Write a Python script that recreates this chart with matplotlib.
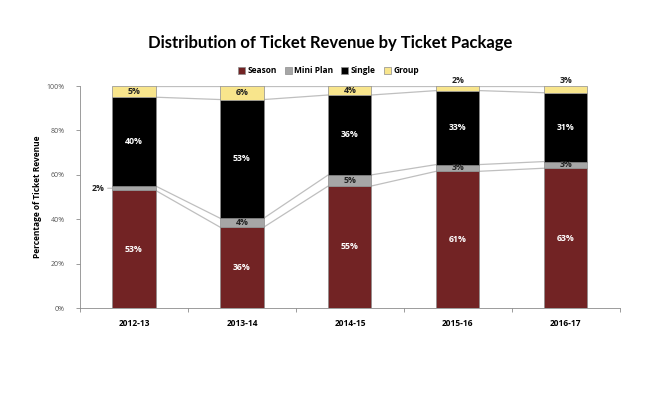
import numpy as np
import matplotlib.pyplot as plt

plt.rcParams['font.family'] = ['Open Sans', 'DejaVu Sans']

years = ["2012-13", "2013-14", "2014-15", "2015-16", "2016-17"]
season = [53, 36, 55, 61, 63]
mini_plan = [2, 4, 5, 3, 3]
single = [40, 53, 36, 33, 31]
group = [5, 6, 4, 2, 3]

names = ["Season", "Mini Plan", "Single", "Group"]
colors = ["#722324", "#a6a6a6", "#000000", "#f8e58c"]
text_colors = ["white", "#222222", "white", "#222222"]

raw = np.array([season, mini_plan, single, group], dtype=float)
share = raw / raw.sum(axis=0) * 100  # 100% stacked, like the source chart

fig = plt.figure(figsize=(6.47, 4.12), dpi=100)
ax = fig.add_axes([0.1236, 0.2524, 0.8344, 0.5386])

x = np.arange(len(years))
w = 0.4
fs = 6.3
bottom = np.zeros(len(years))
for i, name in enumerate(names):
    ax.bar(x, share[i], w, bottom=bottom, color=colors[i], edgecolor="#8c8c8c",
           lw=0.5, label=name, zorder=3)
    for j in range(len(years)):
        lab = f"{int(raw[i, j])}%"
        mid = bottom[j] + share[i, j] / 2
        if name == "Mini Plan" and j == 0:
            ax.annotate(lab, xy=(x[j] - w / 2, mid), xytext=(x[j] - w / 2 - 0.07, mid),
                        ha="right", va="center", fontsize=fs, fontweight="bold",
                        color="#222222",
                        arrowprops=dict(arrowstyle="-", color="#a6a6a6", lw=0.6,
                                        shrinkA=0, shrinkB=0))
        elif name == "Group" and share[i, j] < 3.5:
            ax.text(x[j], 100.5, lab, ha="center", va="bottom", fontsize=fs,
                    fontweight="bold", color="#222222")
        else:
            ax.text(x[j], mid, lab, ha="center", va="center", fontsize=fs,
                    fontweight="bold", color=text_colors[i], zorder=4)
    bottom = bottom + share[i]
    # series lines between neighbouring bars
    for j in range(len(years) - 1):
        ax.plot([x[j] + w / 2, x[j + 1] - w / 2], [bottom[j], bottom[j + 1]],
                color="#bfbfbf", lw=0.9, zorder=2)

ax.set_xlim(-0.5, len(years) - 0.5)
ax.set_ylim(0, 100)
ax.set_yticks(np.arange(0, 101, 20))
ax.set_yticklabels([f"{v}%" for v in range(0, 101, 20)], fontsize=5, color="#555555")
ax.set_xticks(x)
ax.set_xticklabels(years, fontsize=6, fontweight="bold")
ax.set_xticks(np.arange(-0.5, len(years)), minor=True)
ax.tick_params(axis="x", which="major", length=0, pad=8)
ax.tick_params(axis="x", which="minor", length=3, color="#8c8c8c", width=0.6)
ax.tick_params(axis="y", length=3, color="#8c8c8c", width=0.6, pad=8)
for s in ["top", "right"]:
    ax.spines[s].set_visible(False)
for s in ["left", "bottom"]:
    ax.spines[s].set_color("#8c8c8c")
    ax.spines[s].set_linewidth(0.6)

ax.set_ylabel("Percentage of Ticket Revenue", fontsize=6, fontweight="bold", labelpad=3)

fig.suptitle("Distribution of Ticket Revenue by Ticket Package", x=0.51, y=0.915,
             fontsize=12, fontweight="bold", family=["Lato", "DejaVu Sans"])
ax.legend(loc="lower center", bbox_to_anchor=(0.46, 1.015), ncol=4, frameon=False,
          prop={"size": 6, "weight": "bold"}, handlelength=0.8, handleheight=0.8,
          handletextpad=0.3, columnspacing=1.0)

fig.savefig("out.png", dpi=100)
